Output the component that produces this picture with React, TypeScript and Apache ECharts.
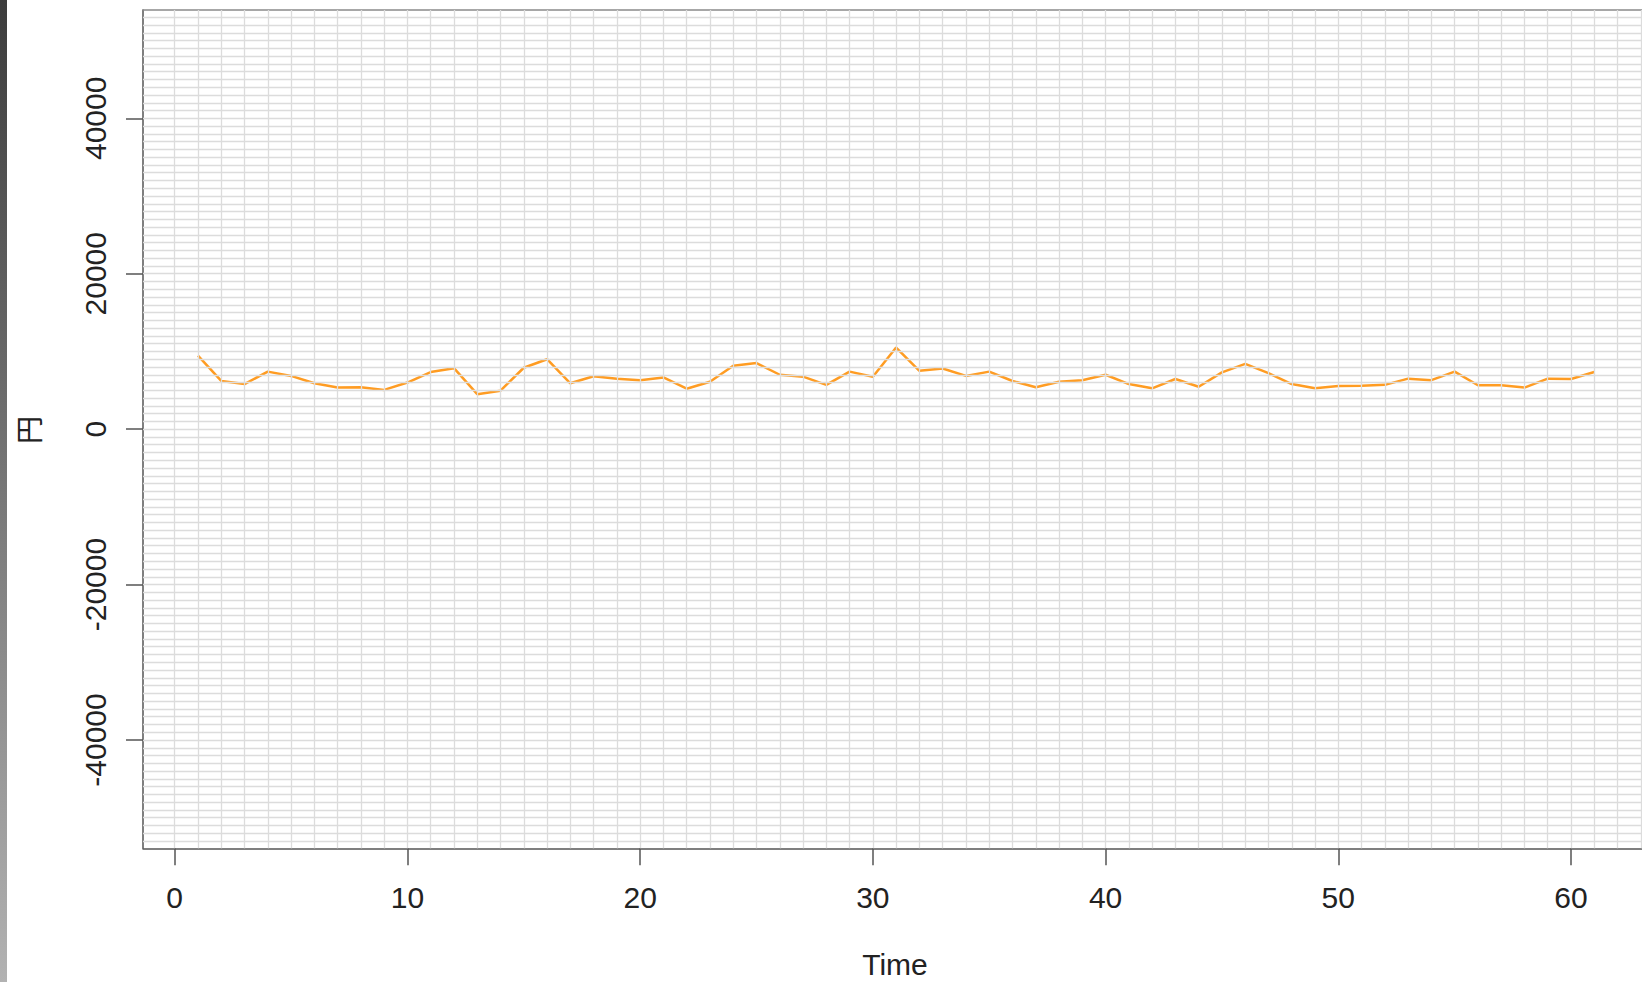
import React, { useEffect, useRef } from "react";
import * as echarts from "echarts";

// ---- data ----
const TIME: number[] = [
  1, 2, 3, 4, 5, 6, 7, 8, 9, 10, 11, 12, 13, 14, 15, 16, 17, 18, 19, 20,
  21, 22, 23, 24, 25, 26, 27, 28, 29, 30, 31, 32, 33, 34, 35, 36, 37, 38, 39, 40,
  41, 42, 43, 44, 45, 46, 47, 48, 49, 50, 51, 52, 53, 54, 55, 56, 57, 58, 59, 60, 61,
];
const YEN: number[] = [
  9450, 6200, 5800, 7400, 6850, 5900, 5350, 5400, 5050, 6000,
  7350, 7850, 4500, 4950, 7900, 9000, 5900, 6800, 6500, 6300,
  6650, 5200, 6100, 8150, 8500, 7000, 6750, 5700, 7400, 6750,
  10500, 7500, 7800, 6850, 7400, 6200, 5400, 6100, 6300, 7000,
  5800, 5250, 6450, 5450, 7300, 8400, 7200, 5800, 5250, 5550,
  5600, 5700, 6500, 6300, 7400, 5650, 5650, 5350, 6500, 6450, 7350,
];
const X_TICKS: number[] = [0, 10, 20, 30, 40, 50, 60];
const Y_TICKS: number[] = [-40000, -20000, 0, 20000, 40000];
const X_MIN = -1.362;
const X_MAX = 63.05;
const Y_MIN = -53935;
const Y_MAX = 53935;
const X_GRID_STEP = 1;
const X_GRID_FROM = 0;
const X_GRID_TO = 63;
const Y_GRID_STEP = 1000;
const Y_GRID_FROM = -53000;
const Y_GRID_TO = 53000;
const X_TITLE = "Time";
const Y_TITLE = "円";

const FONT = "'Liberation Sans', Arial, sans-serif";

export default function App() {
  const ref = useRef<HTMLDivElement>(null);

  useEffect(() => {
    if (!ref.current) return;
    const chart = echarts.init(ref.current, undefined, { renderer: "svg" });

    const gridLines: any[] = [];
    for (let v = X_GRID_FROM; v <= X_GRID_TO; v += X_GRID_STEP) gridLines.push({ xAxis: v });
    for (let v = Y_GRID_FROM; v <= Y_GRID_TO; v += Y_GRID_STEP) gridLines.push({ yAxis: v });

    const option: any = {
      animation: false,
      backgroundColor: "#ffffff",
      grid: {
        left: 143,
        top: 10,
        right: 0,
        bottom: 133.7,
        show: false,
      },
      xAxis: [
        {
          type: "value",
          min: X_MIN,
          max: X_MAX,
          axisLine: { show: true, onZero: false, lineStyle: { color: "#555555", width: 1.5 } },
          axisTick: {
            show: true,
            length: 17,
            customValues: X_TICKS,
            lineStyle: { color: "#555555", width: 1.5 },
          },
          axisLabel: {
            show: true,
            customValues: X_TICKS,
            margin: 34,
            fontSize: 30,
            fontFamily: FONT,
            color: "#222222",
            formatter: (v: number) => String(v),
          },
          splitLine: { show: false },
        },
        {
          type: "value",
          position: "top",
          min: X_MIN,
          max: X_MAX,
          axisLine: { show: true, onZero: false, lineStyle: { color: "#8a8a8a", width: 1.5 } },
          axisTick: { show: false },
          axisLabel: { show: false },
          splitLine: { show: false },
        },
      ],
      yAxis: [
        {
          type: "value",
          min: Y_MIN,
          max: Y_MAX,
          axisLine: { show: true, onZero: false, lineStyle: { color: "#555555", width: 1.5 } },
          axisTick: {
            show: true,
            length: 17,
            customValues: Y_TICKS,
            lineStyle: { color: "#555555", width: 1.5 },
          },
          axisLabel: {
            show: true,
            customValues: Y_TICKS,
            rotate: 90,
            margin: 33,
            fontSize: 30,
            fontFamily: FONT,
            color: "#222222",
            formatter: (v: number) => String(v),
          },
          splitLine: { show: false },
        },
      ],
      graphic: [
        {
          type: "rect",
          left: 0,
          top: 0,
          shape: { x: 0, y: 0, width: 7, height: 982 },
          style: {
            fill: new echarts.graphic.LinearGradient(0, 0, 0, 1, [
              { offset: 0, color: "#3c3c3c" },
              { offset: 1, color: "#b2b2b2" },
            ]),
          },
          z: 100,
        },
        {
          type: "text",
          x: 895,
          y: 964,
          style: {
            text: X_TITLE,
            fontSize: 30,
            fontFamily: FONT,
            fill: "#222222",
            align: "center",
            verticalAlign: "middle",
          },
        },
        {
          type: "text",
          x: 28,
          y: 430,
          rotation: Math.PI / 2,
          style: {
            text: Y_TITLE,
            fontSize: 28,
            fontFamily: "'Noto Sans CJK JP', sans-serif",
            fill: "#222222",
            align: "center",
            verticalAlign: "middle",
          },
        },
      ],
      series: [
        {
          type: "line",
          data: [],
          z: 1,
          silent: true,
          markLine: {
            silent: true,
            symbol: ["none", "none"],
            label: { show: false },
            animation: false,
            lineStyle: { type: "solid", color: "#dcdcdc", width: 1.3 },
            emphasis: { disabled: true },
            data: gridLines,
          },
        },
        {
          type: "line",
          z: 3,
          data: TIME.map((t, i) => [t, YEN[i]]),
          showSymbol: false,
          symbol: "none",
          lineStyle: { color: "#ff9c22", width: 2.5 },
          itemStyle: { color: "#ff9c22" },
        },
      ],
    };

    chart.setOption(option);
    return () => chart.dispose();
  }, []);

  return (
    <div
      ref={ref}
      style={{ position: "fixed", left: 0, top: 0, width: 1642, height: 982 }}
    />
  );
}
